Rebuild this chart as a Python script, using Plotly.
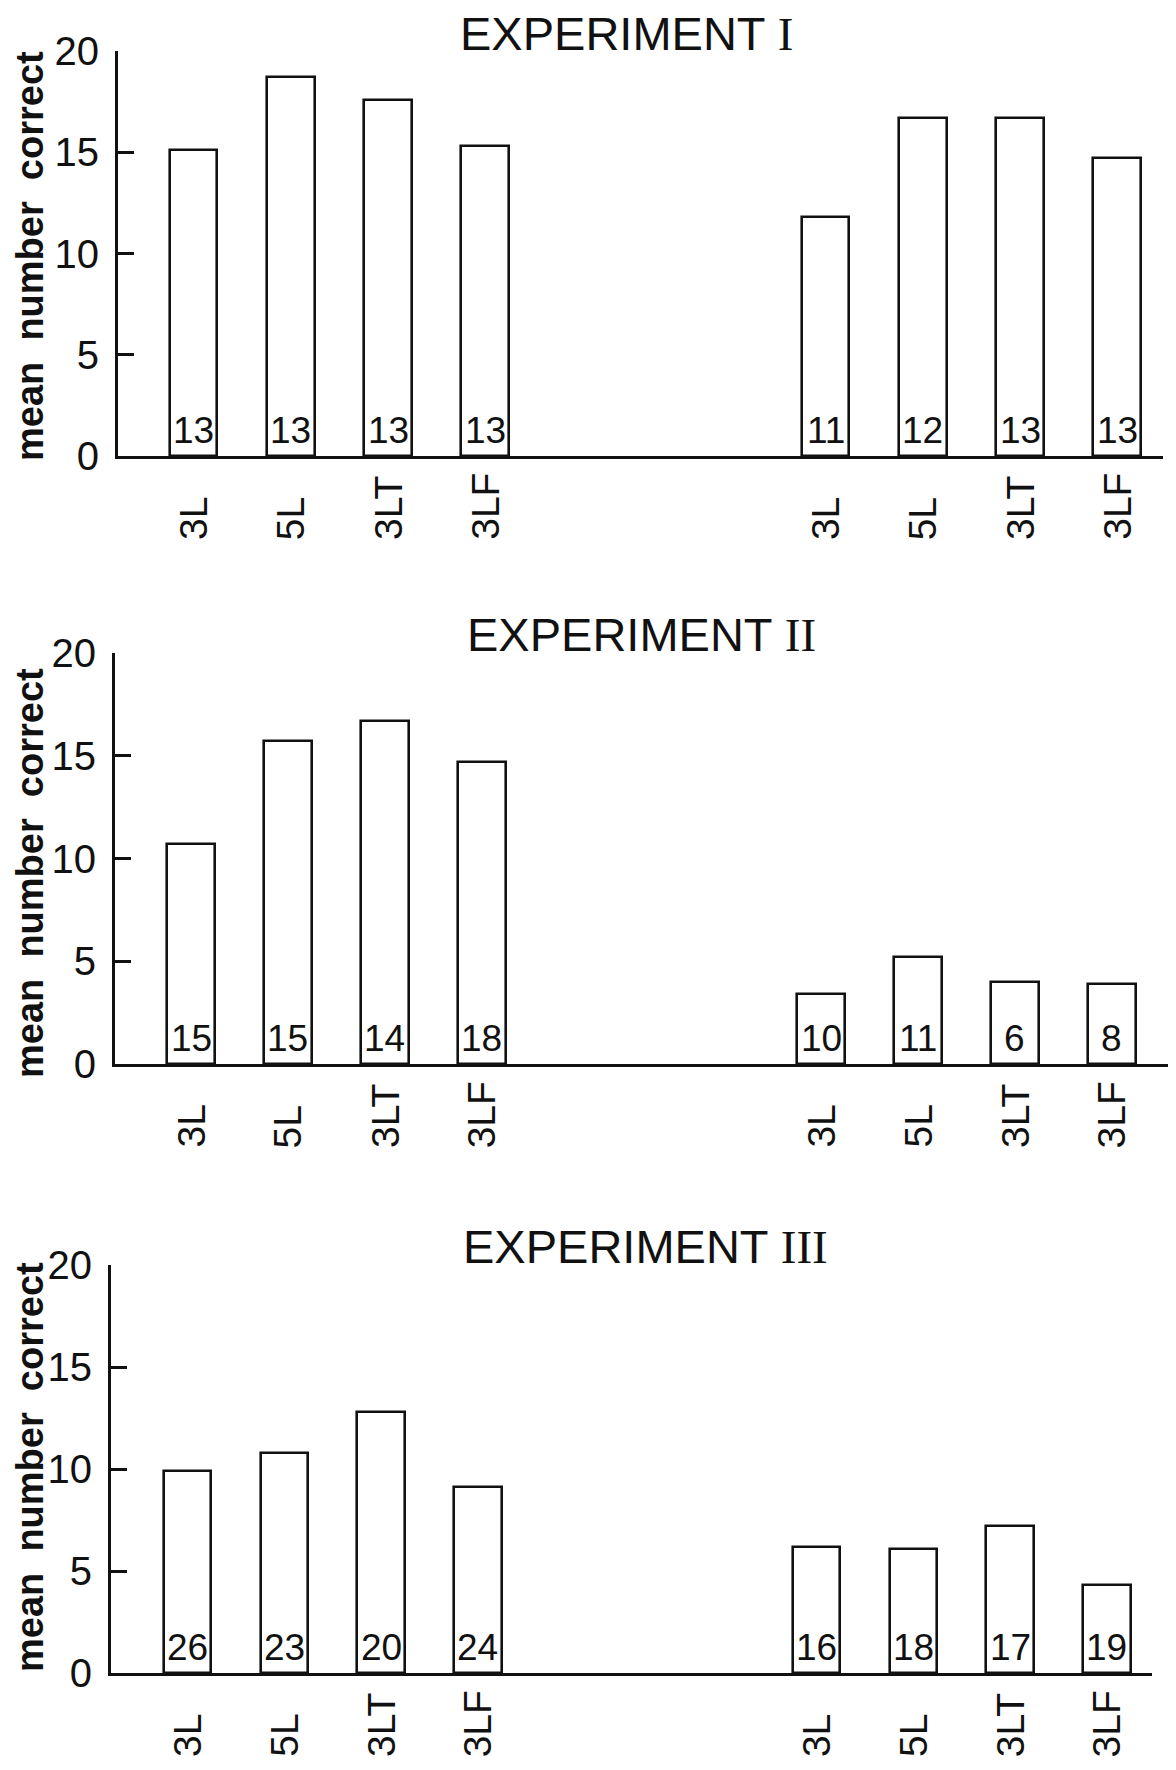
import plotly.graph_objects as go

W, H = 1176, 1770
OFF = 8  # page body margin offset (px)

categories = ["3L", "5L", "3LT", "3LF"]
left_pos = [0, 1, 2, 3]
right_pos = [6.5, 7.5, 8.5, 9.5]

titles = ["EXPERIMENT ", "EXPERIMENT ", "EXPERIMENT "]
numerals = ["I", "II", "III"]

exp1_left = [15.1, 18.7, 17.6, 15.3]
exp1_right = [11.8, 16.7, 16.7, 14.7]
exp1_n_left = [13, 13, 13, 13]
exp1_n_right = [11, 12, 13, 13]

exp2_left = [10.7, 15.7, 16.7, 14.7]
exp2_right = [3.4, 5.2, 4.0, 3.9]
exp2_n_left = [15, 15, 14, 18]
exp2_n_right = [10, 11, 6, 8]

exp3_left = [9.9, 10.8, 12.8, 9.1]
exp3_right = [6.2, 6.1, 7.2, 4.3]
exp3_n_left = [26, 23, 20, 24]
exp3_n_right = [16, 18, 17, 19]

y_ticks = [0, 5, 10, 15, 20]
y_title = "mean\u00a0\u00a0number\u00a0\u00a0correct"

panels = [
    dict(left=exp1_left, right=exp1_right, nl=exp1_n_left, nr=exp1_n_right,
         xdom=(118, 1163), xr=(-0.777, 9.97), y0=456, y20=51,
         title_xy=(626, 33), ytitle_y=256),
    dict(left=exp2_left, right=exp2_right, nl=exp2_n_left, nr=exp2_n_right,
         xdom=(115, 1173), xr=(-0.784, 10.13), y0=1064, y20=653,
         title_xy=(641, 634), ytitle_y=873),
    dict(left=exp3_left, right=exp3_right, nl=exp3_n_left, nr=exp3_n_right,
         xdom=(111, 1152), xr=(-0.79, 9.965), y0=1673, y20=1265,
         title_xy=(645, 1246), ytitle_y=1467),
]


def px_x(v):
    return (v - OFF) / W


def px_y(v):
    return 1 - (v - OFF) / H


INK = "#111111"
FONT = "Liberation Sans"

fig = go.Figure()
annotations = []
layout_axes = {}

for i, p in enumerate(panels):
    k = "" if i == 0 else str(i + 1)
    xa, ya = "x" + k, "y" + k
    xs = left_pos + right_pos
    ys = p["left"] + p["right"]
    ns = p["nl"] + p["nr"]
    fig.add_trace(go.Bar(
        x=xs, y=ys, xaxis=xa, yaxis=ya, width=0.49,
        marker=dict(color="white", line=dict(color=INK, width=2.6)),
        showlegend=False, hoverinfo="skip",
    ))
    layout_axes["xaxis" + k] = dict(
        domain=[px_x(p["xdom"][0]), px_x(p["xdom"][1])], range=list(p["xr"]),
        anchor=ya, showline=True, linecolor=INK, linewidth=3,
        showgrid=False, zeroline=False, showticklabels=False, ticks="",
        automargin=False,
    )
    layout_axes["yaxis" + k] = dict(
        domain=[px_y(p["y0"]), px_y(p["y20"])], range=[0, 20],
        anchor=xa, showline=True, linecolor=INK, linewidth=3,
        showgrid=False, zeroline=False, tickvals=y_ticks,
        ticks="inside", ticklen=16, tickwidth=3, tickcolor=INK,
        ticklabelstandoff=8, automargin=False,
        tickfont=dict(family=FONT, size=40, color=INK),
    )
    # counts inside bars
    for x, n in zip(xs, ns):
        annotations.append(dict(
            x=x, y=0, xref=xa, yref=ya, text=str(n), showarrow=False,
            xanchor="center", yanchor="bottom", yshift=3,
            font=dict(family=FONT, size=37, color=INK),
        ))
    # category labels (rotated)
    for x, c in zip(xs, categories + categories):
        annotations.append(dict(
            x=x, y=px_y(p["y0"] + 86), xref=xa, yref="paper", text=c,
            showarrow=False, textangle=-90, xanchor="center", yanchor="bottom",
            font=dict(family=FONT, size=39, color=INK),
        ))
    # panel title
    tx, ty = p["title_xy"]
    annotations.append(dict(
        x=px_x(tx), y=px_y(ty), xref="paper", yref="paper",
        text=titles[i] + "<span style='font-family:Liberation Serif'>" + numerals[i] + "</span>",
        showarrow=False, xanchor="center", yanchor="middle",
        font=dict(family=FONT, size=47, color=INK),
    ))
    # y axis title
    annotations.append(dict(
        x=0.0, y=px_y(p["ytitle_y"]), xref="paper", yref="paper",
        text="<b>" + y_title + "</b>", showarrow=False, textangle=-90,
        xanchor="left", yanchor="middle", borderpad=0,
        font=dict(family=FONT, size=38, color=INK),
    ))

fig.update_layout(
    template="none",
    width=W, height=H, margin=dict(l=0, r=0, t=0, b=0, pad=0, autoexpand=False),
    autosize=False,
    paper_bgcolor="white", plot_bgcolor="white",
    annotations=annotations, bargap=0, **layout_axes,
)

fig.write_html("out.html", config={"responsive": False})
